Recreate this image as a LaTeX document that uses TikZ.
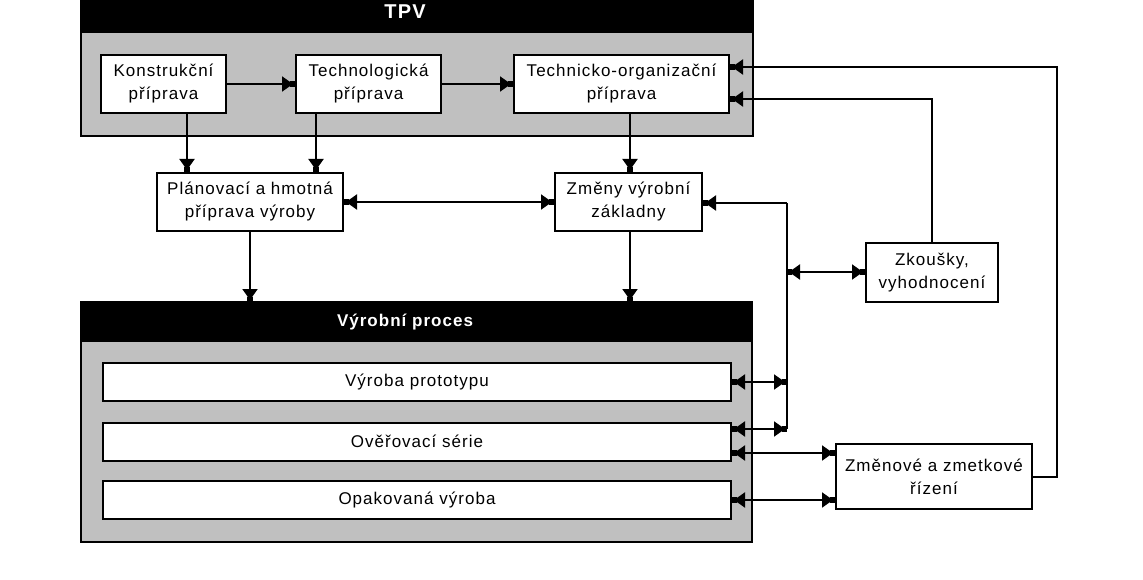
\documentclass[tikz,border=0pt]{standalone}
\usepackage{fontspec}
\setmainfont{Liberation Sans}[LetterSpace=6]
\usetikzlibrary{arrows.meta,calc}
\definecolor{panel}{HTML}{C0C0C0}
\tikzset{
 box/.style={draw=black, line width=2pt, fill=white, align=center, inner sep=0pt, font=\fontsize{17}{23}\selectfont},
 panelbox/.style={draw=black, line width=2pt, fill=panel},
 hdrband/.style={fill=black},
 hdr/.style={text=white, inner sep=0pt, font=\bfseries\fontsize{17}{20}\selectfont},
 conn/.style={line width=2pt},
 tipa/.tip={Triangle[length=11pt,width=15pt,sep=-3pt] Rectangle[length=5pt,width=6pt,sep=0pt]},
 arr/.style={conn, -tipa},
 darr/.style={conn, tipa-tipa}
}
\begin{document}
\begin{tikzpicture}[x=1pt,y=-1pt]
\useasboundingbox (0,0) rectangle (1143,580);
% TPV panel
\draw[panelbox] (81,-3) rectangle (753,136);
\fill[hdrband] (81,-3) rectangle (753,33);
\node[hdr, font=\bfseries\fontsize{20}{22}\selectfont] (tpvh) at (405,12) {TPV};
% Vyrobni proces panel
\draw[panelbox] (81,302) rectangle (752,542);
\fill[hdrband] (81,302) rectangle (752,342);
\node[hdr] (vph) at (405,322) {Výrobní proces};
\coordinate (vptop) at (400,302);
% nodes
\node[box, minimum width=125pt, minimum height=58pt] (k) at (163.5,84) {Konstrukční\\příprava};
\node[box, minimum width=145pt, minimum height=58pt] (t) at (368.5,84) {Technologická\\příprava};
\node[box, minimum width=215pt, minimum height=58pt] (to) at (621.5,84) {Technicko-organizační\\příprava};
\node[box, minimum width=186pt, minimum height=58pt] (p) at (250,202) {Plánovací a hmotná\\příprava výroby};
\node[box, minimum width=147pt, minimum height=58pt] (z) at (628.5,202) {Změny výrobní\\základny};
\node[box, minimum width=132pt, minimum height=59pt] (zk) at (932,272.5) {Zkoušky,\\vyhodnocení};
\node[box, minimum width=628pt, minimum height=38pt] (v1) at (417,382) {Výroba prototypu};
\node[box, minimum width=628pt, minimum height=38pt] (v2) at (417,441.5) {Ověřovací série};
\node[box, minimum width=628pt, minimum height=38pt] (v3) at (417,500) {Opakovaná výroba};
\node[box, minimum width=196pt, minimum height=65pt] (zm) at (934,476.5) {Změnové a zmetkové\\řízení};
% helper coordinates
\coordinate (xk) at (187,0);
\coordinate (xt) at (316,0);
\coordinate (xto) at (630,0);
\coordinate (bus) at (787,0);
\coordinate (rr) at (1057,0);
\coordinate (y1) at (0,67);
\coordinate (y2) at (0,99);
\coordinate (yz) at (0,203);
\coordinate (yzk) at (0,272);
\coordinate (yv2a) at (0,429);
\coordinate (yv2b) at (0,453);
\coordinate (yv3) at (0,500);
% TPV internal
\draw[arr] (k.east) -- (t.west);
\draw[arr] (t.east) -- (to.west);
\draw[arr] (xk |- k.south) -- (xk |- p.north);
\draw[arr] (xt |- t.south) -- (xt |- p.north);
\draw[arr] (xto |- to.south) -- (xto |- z.north);
\draw[darr] (p.east) -- (z.west);
\draw[arr] (p.south) -- (p.south |- vptop);
\draw[arr] (xto |- z.south) -- (xto |- vptop);
% right-side feedback
\draw[arr] (zm.east) -| (rr |- y1) -- (to.east |- y1);
\draw[arr] (zk.north) -- (zk.north |- y2) -- (to.east |- y2);
% bus
\draw[conn] (bus |- yz) -- (bus |- yv2a);
\draw[arr] (bus |- yz) -- (z.east |- yz);
\draw[darr] (bus |- yzk) -- (zk.west |- yzk);
\draw[darr] (v1.east) -- (bus |- v1.east);
\draw[darr] (v2.east |- yv2a) -- (bus |- yv2a);
\draw[darr] (v2.east |- yv2b) -- (zm.west |- yv2b);
\draw[darr] (v3.east |- yv3) -- (zm.west |- yv3);
\end{tikzpicture}
\end{document}
